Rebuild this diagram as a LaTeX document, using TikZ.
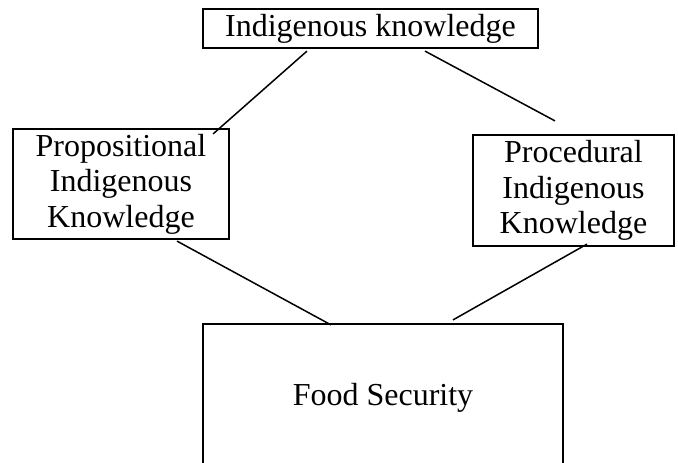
\documentclass[tikz,border=0pt]{standalone}
\usepackage{fontspec}
\setmainfont{Liberation Serif}
\usepackage{tikz}
\usetikzlibrary{calc}

\begin{document}
\begin{tikzpicture}[x=1pt, y=-1pt,
        caixa/.style={draw, line width=2.2pt, align=center, inner sep=0pt,
          font=\fontsize{32}{35.5}\selectfont},
        ligacao/.style={line width=1.5pt}]
        \useasboundingbox (0,0) rectangle (678,463);

        % Caixa de cima
        \node[caixa, minimum width=335, minimum height=39] (ik) at (370.5,28.5) {Indigenous knowledge};

        % Caixas do meio
        \node[caixa, minimum width=216, minimum height=110] (pik) at (121,184)
          {Propositional\\Indigenous\\Knowledge};
        \node[caixa, minimum width=201, minimum height=111] (prik) at (573.5,190.5)
          {Procedural\\Indigenous\\Knowledge};

        % Caixa de baixo
        \node[caixa, minimum width=360, minimum height=148] (fs) at (383,398) {Food Security};

        \draw[ligacao] ($(ik.south)+(-63.5,2)$) -- ($(pik.north east)+(-17,6)$);
        \draw[ligacao] ($(ik.south)+(54.5,2)$) -- ($(prik.north)+(-18.5,-13)$);

        \draw[ligacao] ($(pik.south)+(56,1)$) -- ($(fs.north)+(-52,2)$);
        \draw[ligacao] ($(prik.south)+(13.5,-3)$) -- ($(fs.north)+(70,-3)$);
    \end{tikzpicture}
\end{document}
